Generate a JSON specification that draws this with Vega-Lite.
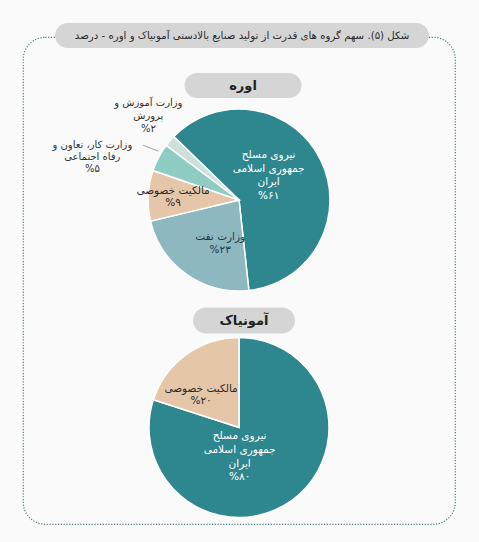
{
  "$schema": "https://vega.github.io/schema/vega-lite/v6.json",
  "width": 432,
  "height": 487,
  "autosize": {"type": "none"},
  "padding": {"left": 23, "right": 24, "top": 37, "bottom": 18},
  "background": "#fafafa",
  "config": {
    "font": "DejaVu Sans",
    "view": {"stroke": "#4a7d83", "strokeWidth": 1.2, "strokeDash": [1.2, 1.6], "cornerRadius": 22},
    "text": {"align": "center", "baseline": "middle", "fontSize": 10.5}
  },
  "datasets": {
    "slices": [
      {"product": "اوره", "key": "irgc", "group": "نیروی مسلح جمهوری اسلامی ایران", "value": 61, "l1": "نیروی مسلح", "l2": "جمهوری اسلامی", "l3": "ایران", "l4": "%۶۱"},
      {"product": "اوره", "key": "oil", "group": "وزارت نفت", "value": 23, "l1": "وزارت نفت", "l2": "%۲۳"},
      {"product": "اوره", "key": "private", "group": "مالکیت خصوصی", "value": 9, "l1": "مالکیت خصوصی", "l2": "%۹"},
      {"product": "اوره", "key": "coop", "group": "وزارت کار، تعاون و رفاه اجتماعی", "value": 5, "l1": "وزارت کار، تعاون و", "l2": "رفاه اجتماعی", "l3": "%۵"},
      {"product": "اوره", "key": "edu", "group": "وزارت آموزش و پرورش", "value": 2, "l1": "وزارت آموزش و", "l2": "پرورش", "l3": "%۲"},
      {"product": "آمونیاک", "key": "irgc", "group": "نیروی مسلح جمهوری اسلامی ایران", "value": 80, "l1": "نیروی مسلح", "l2": "جمهوری اسلامی", "l3": "ایران", "l4": "%۸۰"},
      {"product": "آمونیاک", "key": "private", "group": "مالکیت خصوصی", "value": 20, "l1": "مالکیت خصوصی", "l2": "%۲۰"}
    ]
  },
  "layer": [
    {
      "data": {"values": [{"title": "شکل (۵). سهم گروه های قدرت از تولید صنایع بالادستی آمونیاک و اوره - درصد"}]},
      "encoding": {
        "y": {"datum": "اوره", "type": "nominal", "scale": {"type": "point", "domain": ["اوره", "آمونیاک"], "range": [163, 390.5], "padding": 0}, "axis": null}
      },
      "layer": [
        {
          "mark": {"type": "point", "filled": true, "opacity": 1, "fill": "#d5d5d5", "strokeWidth": 0, "yOffset": -164.5, "xOffset": 3,
            "shape": "M -0.933 -0.0668 L 0.933 -0.0668 A 0.0668 0.0668 0 0 1 0.933 0.0668 L -0.933 0.0668 A 0.0668 0.0668 0 0 1 -0.933 -0.0668 Z",
            "size": 139876}
        },
        {
          "mark": {"type": "text", "fill": "#2b2b2b", "fontSize": 10.2, "yOffset": -164.5, "xOffset": 3},
          "encoding": {"text": {"field": "title", "type": "nominal"}}
        }
      ]
    },
    {
      "data": {"values": [{"product": "اوره"}]},
      "encoding": {
        "y": {"field": "product", "type": "nominal", "scale": {"type": "point", "domain": ["اوره", "آمونیاک"], "range": [163, 390.5], "padding": 0}, "axis": null}
      },
      "layer": [
        {
          "mark": {"type": "point", "filled": true, "opacity": 1, "fill": "#d5d5d5", "strokeWidth": 0, "yOffset": -114.5, "xOffset": 4,
            "shape": "M -0.786 -0.214 L 0.786 -0.214 A 0.214 0.214 0 0 1 0.786 0.214 L -0.786 0.214 A 0.214 0.214 0 0 1 -0.786 -0.214 Z",
            "size": 13689}
        },
        {
          "mark": {"type": "text", "fill": "#222222", "fontSize": 13, "fontWeight": "bold", "yOffset": -114.5, "xOffset": 4},
          "encoding": {"text": {"field": "product", "type": "nominal"}}
        }
      ]
    },
    {
      "data": {"values": [{"product": "آمونیاک"}]},
      "encoding": {
        "y": {"field": "product", "type": "nominal", "scale": {"type": "point", "domain": ["اوره", "آمونیاک"], "range": [163, 390.5], "padding": 0}, "axis": null}
      },
      "layer": [
        {
          "mark": {"type": "point", "filled": true, "opacity": 1, "fill": "#d5d5d5", "strokeWidth": 0, "yOffset": -107, "xOffset": 5,
            "shape": "M -0.745 -0.255 L 0.745 -0.255 A 0.255 0.255 0 0 1 0.745 0.255 L -0.745 0.255 A 0.255 0.255 0 0 1 -0.745 -0.255 Z",
            "size": 10404}
        },
        {
          "mark": {"type": "text", "fill": "#222222", "fontSize": 13, "fontWeight": "bold", "yOffset": -107, "xOffset": 5},
          "encoding": {"text": {"field": "product", "type": "nominal"}}
        }
      ]
    },
    {
      "data": {"name": "slices"},
      "transform": [
        {"filter": "datum.product === 'اوره'"},
        {"window": [{"op": "row_number", "as": "idx"}]}
      ],
      "encoding": {
        "theta": {"field": "value", "type": "quantitative", "stack": true, "scale": {"range": [-0.8, 5.4832]}},
        "order": {"field": "idx", "type": "quantitative"},
        "y": {"field": "product", "type": "nominal", "scale": {"type": "point", "domain": ["اوره", "آمونیاک"], "range": [163, 390.5], "padding": 0}, "axis": null}
      },
      "layer": [
        {
          "mark": {"type": "arc", "outerRadius": 91, "stroke": "white", "strokeWidth": 1.5},
          "encoding": {
            "color": {"field": "group", "type": "nominal", "legend": null,
              "scale": {"domain": ["نیروی مسلح جمهوری اسلامی ایران", "وزارت نفت", "مالکیت خصوصی", "وزارت کار، تعاون و رفاه اجتماعی", "وزارت آموزش و پرورش"],
                        "range": ["#2e878f", "#8db8c0", "#e6c6a8", "#8fcdc4", "#cde0da"]}}
          }
        },
        {"mark": {"type": "text", "radius": 33, "dy": -30.5, "fill": "#ffffff"}, "encoding": {"text": {"condition": {"test": "datum.key === 'irgc'", "field": "l1", "type": "nominal"}, "value": ""}}},
        {"mark": {"type": "text", "radius": 33, "dy": -16.8, "fill": "#ffffff"}, "encoding": {"text": {"condition": {"test": "datum.key === 'irgc'", "field": "l2", "type": "nominal"}, "value": ""}}},
        {"mark": {"type": "text", "radius": 33, "dy": -3.1, "fill": "#ffffff"}, "encoding": {"text": {"condition": {"test": "datum.key === 'irgc'", "field": "l3", "type": "nominal"}, "value": ""}}},
        {"mark": {"type": "text", "radius": 33, "dy": 10.6, "fill": "#ffffff"}, "encoding": {"text": {"condition": {"test": "datum.key === 'irgc'", "field": "l4", "type": "nominal"}, "value": ""}}},
        {"mark": {"type": "text", "radius": 50, "dx": 10, "dy": -3.5, "fill": "#1e3a4c"}, "encoding": {"text": {"condition": {"test": "datum.key === 'oil'", "field": "l1", "type": "nominal"}, "value": ""}}},
        {"mark": {"type": "text", "radius": 50, "dx": 10, "dy": 9.5, "fill": "#1e3a4c"}, "encoding": {"text": {"condition": {"test": "datum.key === 'oil'", "field": "l2", "type": "nominal"}, "value": ""}}},
        {"mark": {"type": "text", "radius": 66, "dy": -6, "fill": "#2a2a2a"}, "encoding": {"text": {"condition": {"test": "datum.key === 'private'", "field": "l1", "type": "nominal"}, "value": ""}}},
        {"mark": {"type": "text", "radius": 66, "dy": 6, "fill": "#2a2a2a"}, "encoding": {"text": {"condition": {"test": "datum.key === 'private'", "field": "l2", "type": "nominal"}, "value": ""}}},
        {"mark": {"type": "text", "radius": 140, "dx": -23, "dy": 11, "fill": "#333333", "fontSize": 10}, "encoding": {"text": {"condition": {"test": "datum.key === 'coop'", "field": "l1", "type": "nominal"}, "value": ""}}},
        {"mark": {"type": "text", "radius": 140, "dx": -23, "dy": 23, "fill": "#333333", "fontSize": 10}, "encoding": {"text": {"condition": {"test": "datum.key === 'coop'", "field": "l2", "type": "nominal"}, "value": ""}}},
        {"mark": {"type": "text", "radius": 140, "dx": -23, "dy": 35, "fill": "#333333", "fontSize": 10}, "encoding": {"text": {"condition": {"test": "datum.key === 'coop'", "field": "l3", "type": "nominal"}, "value": ""}}},
        {"mark": {"type": "text", "radius": 122, "dx": 2, "dy": -18, "fill": "#333333", "fontSize": 10}, "encoding": {"text": {"condition": {"test": "datum.key === 'edu'", "field": "l1", "type": "nominal"}, "value": ""}}},
        {"mark": {"type": "text", "radius": 122, "dx": 2, "dy": -5, "fill": "#333333", "fontSize": 10}, "encoding": {"text": {"condition": {"test": "datum.key === 'edu'", "field": "l2", "type": "nominal"}, "value": ""}}},
        {"mark": {"type": "text", "radius": 122, "dx": 2, "dy": 8, "fill": "#333333", "fontSize": 10}, "encoding": {"text": {"condition": {"test": "datum.key === 'edu'", "field": "l3", "type": "nominal"}, "value": ""}}},
        {
          "mark": {"type": "text", "radius": 104, "dx": 2, "dy": -4, "angle": 22, "fill": "#9a9a9a", "fontSize": 9},
          "encoding": {"text": {"condition": {"test": "datum.key === 'coop'", "value": "───"}, "value": ""}}
        }
      ]
    },
    {
      "data": {"name": "slices"},
      "transform": [
        {"filter": "datum.product === 'آمونیاک'"},
        {"window": [{"op": "row_number", "as": "idx"}]}
      ],
      "encoding": {
        "theta": {"field": "value", "type": "quantitative", "stack": true, "scale": {"range": [0, 6.2832]}},
        "order": {"field": "idx", "type": "quantitative"},
        "y": {"field": "product", "type": "nominal", "scale": {"type": "point", "domain": ["اوره", "آمونیاک"], "range": [163, 390.5], "padding": 0}, "axis": null}
      },
      "layer": [
        {
          "mark": {"type": "arc", "outerRadius": 90, "stroke": "white", "strokeWidth": 1.5},
          "encoding": {
            "color": {"field": "group", "type": "nominal", "legend": null,
              "scale": {"domain": ["نیروی مسلح جمهوری اسلامی ایران", "وزارت نفت", "مالکیت خصوصی", "وزارت کار، تعاون و رفاه اجتماعی", "وزارت آموزش و پرورش"],
                        "range": ["#2e878f", "#8db8c0", "#e6c6a8", "#8fcdc4", "#cde0da"]}}
          }
        },
        {"mark": {"type": "text", "radius": 30, "dx": -17, "dy": -15.5, "fill": "#ffffff"}, "encoding": {"text": {"condition": {"test": "datum.key === 'irgc'", "field": "l1", "type": "nominal"}, "value": ""}}},
        {"mark": {"type": "text", "radius": 30, "dx": -17, "dy": -1.8, "fill": "#ffffff"}, "encoding": {"text": {"condition": {"test": "datum.key === 'irgc'", "field": "l2", "type": "nominal"}, "value": ""}}},
        {"mark": {"type": "text", "radius": 30, "dx": -17, "dy": 11.9, "fill": "#ffffff"}, "encoding": {"text": {"condition": {"test": "datum.key === 'irgc'", "field": "l3", "type": "nominal"}, "value": ""}}},
        {"mark": {"type": "text", "radius": 30, "dx": -17, "dy": 25.6, "fill": "#ffffff"}, "encoding": {"text": {"condition": {"test": "datum.key === 'irgc'", "field": "l4", "type": "nominal"}, "value": ""}}},
        {"mark": {"type": "text", "radius": 45, "dx": -11.5, "dy": -2, "fill": "#2a2a2a"}, "encoding": {"text": {"condition": {"test": "datum.key === 'private'", "field": "l1", "type": "nominal"}, "value": ""}}},
        {"mark": {"type": "text", "radius": 45, "dx": -11.5, "dy": 10, "fill": "#2a2a2a"}, "encoding": {"text": {"condition": {"test": "datum.key === 'private'", "field": "l2", "type": "nominal"}, "value": ""}}}
      ]
    }
  ],
  "resolve": {"scale": {"theta": "independent"}}
}
